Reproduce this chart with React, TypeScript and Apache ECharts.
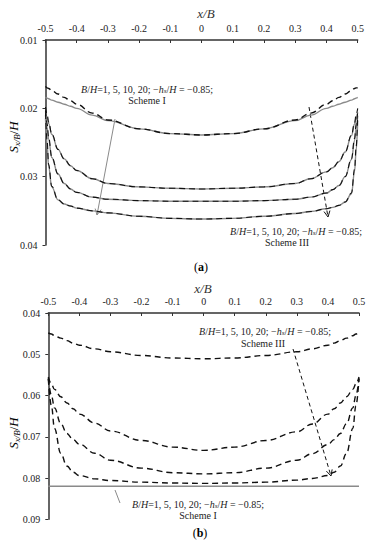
import React, { useEffect, useRef } from "react";
import * as echarts from "echarts";

// ---- data ----
const X_TOP = [-0.5, -0.495, -0.49, -0.48, -0.46, -0.44, -0.42, -0.4, -0.35, -0.3, -0.2, -0.1, 0, 0.1, 0.2, 0.3, 0.35, 0.4, 0.42, 0.44, 0.46, 0.48, 0.49, 0.495, 0.5];
// Scheme I (grey solid), panel (a)
const A_I_1 = [0.0184, 0.0185, 0.0186, 0.0188, 0.0191, 0.0194, 0.0197, 0.0200, 0.0210, 0.0218, 0.0230, 0.0237, 0.0239, 0.0237, 0.0230, 0.0218, 0.0210, 0.0200, 0.0197, 0.0194, 0.0191, 0.0188, 0.0186, 0.0185, 0.0184];
const A_I_5 = [0.0205, 0.0213, 0.0222, 0.0238, 0.0260, 0.0274, 0.0284, 0.0291, 0.0303, 0.0310, 0.0315, 0.0317, 0.0318, 0.0317, 0.0315, 0.0310, 0.0303, 0.0293, 0.0287, 0.0278, 0.0264, 0.0240, 0.0223, 0.0214, 0.0206];
const A_I_10 = [0.0210, 0.0228, 0.0245, 0.0272, 0.0296, 0.0310, 0.0318, 0.0323, 0.0330, 0.0333, 0.0335, 0.0336, 0.0336, 0.0336, 0.0335, 0.0333, 0.0330, 0.0324, 0.0319, 0.0313, 0.0300, 0.0275, 0.0247, 0.0229, 0.0211];
const A_I_20 = [0.0215, 0.0252, 0.0285, 0.0315, 0.0334, 0.0340, 0.0343, 0.0346, 0.0350, 0.0353, 0.0358, 0.0361, 0.0362, 0.0361, 0.0358, 0.0354, 0.0351, 0.0347, 0.0345, 0.0342, 0.0337, 0.0325, 0.0292, 0.0262, 0.0218];
// Scheme III (black dashed), panel (a)
const A_III_1 = [0.0168, 0.0170, 0.0171, 0.0174, 0.0179, 0.0184, 0.0189, 0.0194, 0.0207, 0.0217, 0.0230, 0.0237, 0.0239, 0.0237, 0.0230, 0.0217, 0.0207, 0.0194, 0.0189, 0.0184, 0.0179, 0.0174, 0.0171, 0.0170, 0.0170];
const A_III_5 = [0.0198, 0.0208, 0.0220, 0.0237, 0.0260, 0.0274, 0.0284, 0.0291, 0.0303, 0.0310, 0.0315, 0.0317, 0.0318, 0.0317, 0.0315, 0.0310, 0.0303, 0.0293, 0.0287, 0.0278, 0.0264, 0.0239, 0.0221, 0.0209, 0.0200];
const A_III_10 = [0.0203, 0.0222, 0.0242, 0.0271, 0.0296, 0.0310, 0.0318, 0.0323, 0.0330, 0.0333, 0.0335, 0.0336, 0.0336, 0.0336, 0.0335, 0.0333, 0.0330, 0.0324, 0.0319, 0.0313, 0.0300, 0.0274, 0.0244, 0.0223, 0.0204];
const A_III_20 = [0.0207, 0.0246, 0.0282, 0.0314, 0.0334, 0.0340, 0.0343, 0.0346, 0.0350, 0.0353, 0.0358, 0.0361, 0.0362, 0.0361, 0.0358, 0.0354, 0.0351, 0.0347, 0.0345, 0.0342, 0.0337, 0.0324, 0.0289, 0.0256, 0.0210];

const X_BOT = [-0.5, -0.49, -0.48, -0.46, -0.44, -0.42, -0.4, -0.35, -0.3, -0.2, -0.1, 0, 0.1, 0.2, 0.3, 0.35, 0.4, 0.42, 0.44, 0.46, 0.48, 0.49, 0.5];
// Scheme III (black dashed), panel (b)
const B_III_1 = [0.0448, 0.0451, 0.0455, 0.0461, 0.0467, 0.0473, 0.0478, 0.0487, 0.0494, 0.0503, 0.0509, 0.0511, 0.0509, 0.0503, 0.0494, 0.0487, 0.0478, 0.0473, 0.0467, 0.0461, 0.0455, 0.0451, 0.0448];
const B_III_5 = [0.0555, 0.0572, 0.0585, 0.0603, 0.0618, 0.0632, 0.0645, 0.0667, 0.0686, 0.0709, 0.0725, 0.0733, 0.0725, 0.0709, 0.0688, 0.0669, 0.0645, 0.0632, 0.0618, 0.0603, 0.0585, 0.0572, 0.0555];
const B_III_10 = [0.0558, 0.0600, 0.0630, 0.0668, 0.0692, 0.0707, 0.0718, 0.0740, 0.0757, 0.0776, 0.0787, 0.0790, 0.0787, 0.0776, 0.0757, 0.0741, 0.0719, 0.0707, 0.0692, 0.0668, 0.0630, 0.0600, 0.0558];
const B_III_20 = [0.0560, 0.0625, 0.0680, 0.0740, 0.0771, 0.0786, 0.0794, 0.0802, 0.0806, 0.0810, 0.0812, 0.0813, 0.0812, 0.0810, 0.0805, 0.0801, 0.0794, 0.0786, 0.0771, 0.0740, 0.0680, 0.0625, 0.0560];
// Scheme I (grey solid), panel (b)
const X_B_I = [-0.5, 0.5];
const B_I_ALL = [0.0820, 0.0820];

const X_TICKS_MIN = -0.5;
const X_TICKS_MAX = 0.5;
const A_Y = [0.01, 0.04];
const B_Y = [0.04, 0.09];

const FONT = "Liberation Serif";
const GREY = "#8a8a8a";
const BLACK = "#111";

function pairs(xs: number[], ys: number[]) {
  return xs.map((x, i) => [x, ys[i]]);
}

function arrow(x1: number, y1: number, x2: number, y2: number, color: string, dashed: boolean, head = true) {
  const els: any[] = [
    {
      type: "line",
      shape: { x1, y1, x2, y2 },
      style: { stroke: color, lineWidth: 1, lineDash: dashed ? [4, 3] : null },
      silent: true,
    },
  ];
  if (head) {
    const dx = x2 - x1, dy = y2 - y1;
    const len = Math.sqrt(dx * dx + dy * dy);
    const ux = dx / len, uy = dy / len;
    const hl = 6, hw = 3;
    const bx = x2 - ux * hl, by = y2 - uy * hl;
    els.push({
      type: "polyline",
      shape: { points: [[bx - uy * hw, by + ux * hw], [x2, y2], [bx + uy * hw, by - ux * hw]] },
      style: { stroke: color, lineWidth: 1, fill: null },
      silent: true,
    });
  }
  return els;
}

const annRich = {
  n: { fontFamily: FONT, fontSize: 10, color: "#222", lineHeight: 10 },
  i: { fontFamily: FONT, fontSize: 10, fontStyle: "italic", color: "#222", lineHeight: 10 },
  s: { fontFamily: FONT, fontSize: 7, fontStyle: "italic", color: "#222", lineHeight: 7, padding: [3, 0, 0, 0] },
};
const ANN_LINE = "{i|B}{n|/}{i|H}{n|=1, 5, 10, 20; \u2212}{i|h}{s|s}{n|/}{i|H}{n| = \u22120.85;}";

function annText(x: number, y: number, text: string) {
  return {
    type: "text",
    x,
    y,
    silent: true,
    style: { text, rich: annRich, align: "center", verticalAlign: "middle", fontFamily: FONT, fontSize: 10, fill: "#222" },
  };
}
function plainText(x: number, y: number, text: string) {
  return {
    type: "text",
    x,
    y,
    silent: true,
    style: { text, align: "center", verticalAlign: "middle", fontFamily: FONT, fontSize: 10, lineHeight: 10, fill: "#222" },
  };
}

const yNameRich = {
  i: { fontFamily: FONT, fontSize: 13, fontStyle: "italic", color: "#333" },
  n: { fontFamily: FONT, fontSize: 13, color: "#333" },
  s: { fontFamily: FONT, fontSize: 9, fontStyle: "italic", color: "#333", padding: [7, 0, 0, 0] },
};

function yName(x: number, y: number) {
  return {
    type: "text",
    x,
    y,
    rotation: Math.PI / 2,
    silent: true,
    style: { text: "{i|S}{s|x/B}{n|/}{i|H}", rich: yNameRich, align: "center", verticalAlign: "middle" },
  };
}
function xName(x: number, y: number) {
  return {
    type: "text",
    x,
    y,
    silent: true,
    style: { text: "x/B", fontFamily: FONT, fontSize: 13, fontStyle: "italic", fill: "#333", align: "center", verticalAlign: "middle" },
  };
}
function panelLabel(x: number, y: number, letter: string) {
  return {
    type: "text",
    x,
    y,
    silent: true,
    style: {
      text: "{n|(}{b|" + letter + "}{n|)}",
      rich: {
        n: { fontFamily: FONT, fontSize: 12, color: "#222" },
        b: { fontFamily: FONT, fontSize: 12, fontWeight: "bold", color: "#222" },
      },
      align: "center",
      verticalAlign: "middle",
    },
  };
}

function xFmt(v: number) {
  if (Math.abs(v) < 1e-9) return "0";
  return v.toFixed(1);
}

function makeX(gridIndex: number) {
  return {
    type: "value",
    gridIndex,
    position: "top",
    min: X_TICKS_MIN,
    max: X_TICKS_MAX,
    interval: 0.1,
    axisLine: { show: true, onZero: false, lineStyle: { color: "#333", width: 1.5 } },
    axisTick: { show: true, inside: true, length: 3, lineStyle: { color: "#333", width: 1 } },
    axisLabel: { fontFamily: FONT, fontSize: 10, color: "#222", margin: 7, formatter: xFmt },
    splitLine: { show: false },
  };
}
function makeY(gridIndex: number, range: number[]) {
  return {
    type: "value",
    gridIndex,
    inverse: true,
    min: range[0],
    max: range[1],
    interval: 0.01,
    axisLine: { show: true, onZero: false, lineStyle: { color: "#333", width: 1.5 } },
    axisTick: { show: true, inside: false, length: 3, lineStyle: { color: "#333", width: 1 } },
    axisLabel: { fontFamily: FONT, fontSize: 10, color: "#222", margin: 8, formatter: (v: number) => v.toFixed(2) },
    splitLine: { show: false },
  };
}

function greyLine(idx: number, xs: number[], ys: number[]) {
  return {
    type: "line",
    xAxisIndex: idx,
    yAxisIndex: idx,
    data: pairs(xs, ys),
    showSymbol: false,
    smooth: 0.4,
    smoothMonotone: "x",
    lineStyle: { color: GREY, width: 1.4, type: "solid" },
    z: 2,
  };
}
function dashLine(idx: number, xs: number[], ys: number[], width = 1.4) {
  return {
    type: "line",
    xAxisIndex: idx,
    yAxisIndex: idx,
    data: pairs(xs, ys),
    showSymbol: false,
    smooth: 0.4,
    smoothMonotone: "x",
    lineStyle: { color: BLACK, width, type: [6, 4] },
    z: 3,
  };
}

export default function App() {
  const ref = useRef<HTMLDivElement>(null);
  useEffect(() => {
    if (!ref.current) return;
    const chart = echarts.init(ref.current, null, { renderer: "svg" });
    chart.setOption({
      animation: false,
      backgroundColor: "#fff",
      grid: [
        { left: 45.5, right: 14.3, top: 40, height: 205 },
        { left: 48.3, right: 13, top: 313, height: 206.3 },
      ],
      xAxis: [makeX(0), makeX(1)],
      yAxis: [makeY(0, A_Y), makeY(1, B_Y)],
      series: [
        greyLine(0, X_TOP, A_I_1),
        greyLine(0, X_TOP, A_I_5),
        greyLine(0, X_TOP, A_I_10),
        greyLine(0, X_TOP, A_I_20),
        dashLine(0, X_TOP, A_III_1),
        dashLine(0, X_TOP, A_III_5, 1.1),
        dashLine(0, X_TOP, A_III_10, 1.1),
        dashLine(0, X_TOP, A_III_20, 1.1),
        greyLine(1, X_B_I, B_I_ALL),
        dashLine(1, X_BOT, B_III_1),
        dashLine(1, X_BOT, B_III_5),
        dashLine(1, X_BOT, B_III_10),
        dashLine(1, X_BOT, B_III_20),
      ],
      graphic: [
        xName(206, 13),
        xName(203, 288),
        yName(13, 137),
        yName(13, 433),
        annText(147, 89, ANN_LINE),
        plainText(147, 100.5, "Scheme I"),
        annText(296, 231, ANN_LINE),
        plainText(287, 242.5, "Scheme III"),
        annText(265, 331.5, ANN_LINE),
        plainText(263, 343, "Scheme III"),
        annText(198, 504, ANN_LINE),
        plainText(198, 515.5, "Scheme I"),
        panelLabel(201, 267, "a"),
        panelLabel(200, 533, "b"),
        ...arrow(115, 119, 97, 215, GREY, false),
        ...arrow(309, 107, 328, 217, BLACK, true),
        ...arrow(293, 349, 331, 476, BLACK, true),
        ...arrow(115, 490, 120, 503, GREY, false, false),
      ],
    });
    return () => chart.dispose();
  }, []);
  return (
    <div
      ref={ref}
      style={{ position: "fixed", left: 0, top: 0, width: 372, height: 550, background: "#fff" }}
    />
  );
}
